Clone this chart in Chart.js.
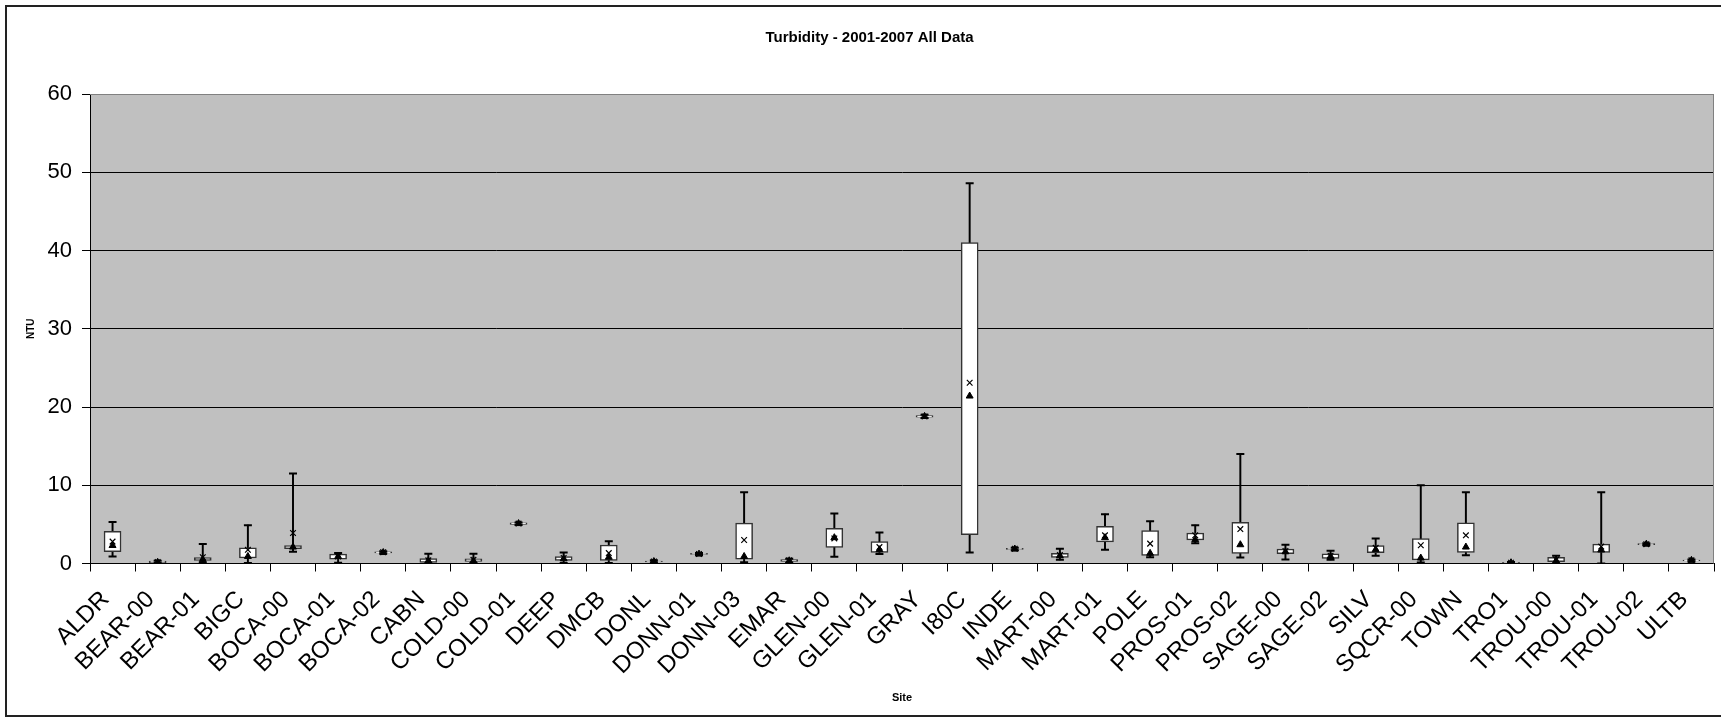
<!DOCTYPE html>
<html>
<head>
<meta charset="utf-8">
<title>Turbidity - 2001-2007 All Data</title>
<script src="https://cdn.jsdelivr.net/npm/chart.js@4.4.1/dist/chart.umd.min.js"></script>
<style>
    html, body { margin: 0; padding: 0; background: #fff; overflow: hidden; }
    #wrap { position: relative; width: 1721px; height: 720px; }
    #frame {
        position: absolute; left: 5px; top: 5px; width: 1720px; height: 712px;
        border: 2px solid #222; box-sizing: border-box; pointer-events: none;
    }
</style>
</head>
<body>
<div id="wrap">
    <canvas id="chart" width="1721" height="720"></canvas>
    <div id="frame"></div>
</div>
<script>
// ============================================
// DATA (NTU)
// ============================================
const sites = ['ALDR', 'BEAR-00', 'BEAR-01', 'BIGC', 'BOCA-00', 'BOCA-01', 'BOCA-02', 'CABN',
    'COLD-00', 'COLD-01', 'DEEP', 'DMCB', 'DONL', 'DONN-01', 'DONN-03', 'EMAR', 'GLEN-00',
    'GLEN-01', 'GRAY', 'I80C', 'INDE', 'MART-00', 'MART-01', 'POLE', 'PROS-01', 'PROS-02',
    'SAGE-00', 'SAGE-02', 'SILV', 'SQCR-00', 'TOWN', 'TRO1', 'TROU-00', 'TROU-01', 'TROU-02', 'ULTB'];

const whiskerLow  = [0.9, 0.05, 0.1, 0.05, 1.5, 0.1, 1.3, 0.0, 0.05, 4.95, 0.05, 0.05, 0.15, 1.1, 0.17, 0.1, 0.86, 1.2,
    18.6, 1.4, 1.7, 0.47, 1.77, 0.8, 2.6, 0.78, 0.52, 0.47, 1.0, 0.13, 1.04, 0.0, 0.0, 0.0, 2.35, 0.3];
const quart1      = [1.5, 0.1, 0.4, 0.7, 1.9, 0.55, 1.35, 0.13, 0.26, 5.0, 0.4, 0.4, 0.2, 1.15, 0.56, 0.26, 2.06, 1.42,
    18.7, 3.7, 1.8, 0.78, 2.76, 1.03, 3.0, 1.3, 1.25, 0.65, 1.38, 0.47, 1.43, 0.05, 0.22, 1.43, 2.4, 0.35];
const medians     = [2.3, 0.15, 0.5, 0.9, 2.1, 0.9, 1.4, 0.35, 0.35, 5.1, 0.6, 0.8, 0.25, 1.2, 0.9, 0.35, 3.3, 1.76,
    18.8, 21.4, 1.85, 1.0, 3.3, 1.3, 3.05, 2.4, 1.5, 0.9, 1.77, 0.7, 2.1, 0.1, 0.35, 1.73, 2.47, 0.4];
const means       = [2.8, 0.2, 0.8, 1.75, 3.9, 0.9, 1.45, 0.4, 0.47, 5.1, 0.7, 1.33, 0.26, 1.22, 3.0, 0.4, 3.2, 2.1,
    18.8, 23.1, 1.9, 1.08, 3.6, 2.54, 3.6, 4.4, 1.6, 1.0, 2.0, 2.33, 3.6, 0.1, 0.5, 2.16, 2.47, 0.4];
const quart3      = [4.1, 0.3, 0.75, 2.0, 2.3, 1.2, 1.5, 0.64, 0.6, 5.2, 0.9, 2.36, 0.3, 1.3, 5.15, 0.5, 4.5, 2.8,
    18.9, 41.0, 1.95, 1.3, 4.74, 4.2, 3.9, 5.26, 1.85, 1.25, 2.3, 3.2, 5.2, 0.15, 0.78, 2.47, 2.55, 0.45];
const whiskerHigh = [5.3, 0.35, 2.5, 4.9, 11.5, 1.35, 1.55, 1.25, 1.25, 5.25, 1.4, 2.83, 0.4, 1.35, 9.1, 0.6, 6.4, 3.95,
    19.0, 48.6, 2.0, 1.9, 6.3, 5.4, 4.9, 14.0, 2.4, 1.64, 3.2, 10.0, 9.1, 0.2, 1.0, 9.1, 2.6, 0.5];

const yTicks = [0, 10, 20, 30, 40, 50, 60];

const FONT = "'Liberation Sans', Arial, sans-serif";

// ============================================
// PLOT AREA BACKGROUND + BORDER
// ============================================
const plotArea = {
    id: 'plotArea',
    beforeDraw(chart) {
        const { ctx, chartArea: a } = chart;
        ctx.save();
        ctx.fillStyle = '#C0C0C0';
        ctx.fillRect(a.left, a.top, a.right - a.left, a.bottom - a.top);
        ctx.restore();
    },
    beforeDatasetsDraw(chart) {
        const { ctx, chartArea: a } = chart;
        ctx.save();
        ctx.strokeStyle = '#808080';
        ctx.lineWidth = 1;
        ctx.beginPath();
        ctx.moveTo(a.left, a.top + 0.5);
        ctx.lineTo(a.right - 0.5, a.top + 0.5);
        ctx.lineTo(a.right - 0.5, a.bottom);
        ctx.stroke();
        ctx.restore();
    }
};

function pairs(lo, hi) {
    return lo.map((v, i) => [v, hi[i]]);
}

const pointSet = (label, data, style, radius, extra) => Object.assign({
    type: 'line',
    label: label,
    data: data,
    showLine: false,
    pointStyle: style,
    pointRadius: radius,
    pointHoverRadius: radius,
    borderColor: '#000',
    backgroundColor: '#000'
}, extra);

new Chart(document.getElementById('chart'), {
    type: 'bar',
    data: {
        labels: sites,
        datasets: [
            pointSet('Median', medians, 'triangle', 4, { order: 1, pointBorderWidth: 1 }),
            pointSet('Mean', means, 'crossRot', 4, { order: 2, pointBorderWidth: 1.2 }),
            pointSet('Max', whiskerHigh, 'line', 4, { order: 3, pointBorderWidth: 2 }),
            pointSet('Min', whiskerLow, 'line', 4, { order: 3, pointBorderWidth: 2 }),
            {
                label: 'Box',
                data: pairs(quart1, quart3),
                order: 4,
                grouped: false,
                barThickness: 17,
                backgroundColor: '#ffffff',
                borderColor: '#333333',
                borderWidth: 1.5,
                borderSkipped: false
            },
            {
                label: 'Whisker',
                data: pairs(whiskerLow, whiskerHigh),
                order: 5,
                grouped: false,
                barThickness: 1.3,
                backgroundColor: '#000000',
                borderWidth: 0
            }
        ]
    },
    options: {
        responsive: false,
        animation: false,
        layout: { padding: { left: 25, right: 7, top: 0, bottom: 15 } },
        plugins: {
            legend: { display: false },
            tooltip: { enabled: false },
            title: {
                display: true,
                text: 'Turbidity - 2001-2007 All Data',
                color: '#000',
                font: { family: FONT, size: 15, weight: 'bold' },
                padding: { top: 29, bottom: 47 }
            }
        },
        scales: {
            x: {
                offset: true,
                grid: {
                    offset: true,
                    drawOnChartArea: false,
                    drawTicks: true,
                    tickLength: 8,
                    color: '#000'
                },
                border: { color: '#000', width: 1 },
                ticks: {
                    autoSkip: false,
                    maxRotation: 45,
                    minRotation: 45,
                    color: '#000',
                    padding: 14,
                    labelOffset: -7,
                    font: { family: FONT, size: 24 }
                },
                title: {
                    display: true,
                    text: 'Site',
                    color: '#000',
                    font: { family: FONT, size: 11, weight: 'bold' },
                    padding: 0
                },
                afterFit(scale) {
                    scale.height = 141.5;
                    scale.paddingLeft = 0;
                    scale.paddingRight = 0;
                }
            },
            y: {
                min: yTicks[0],
                max: yTicks[yTicks.length - 1],
                afterBuildTicks(scale) { scale.ticks = yTicks.map(v => ({ value: v })); },
                grid: {
                    color: ctx => (ctx.tick && ctx.tick.value === 60) ? '#808080' : '#000',
                    lineWidth: 1,
                    tickLength: 8,
                    tickColor: '#000'
                },
                border: { color: '#000', width: 1 },
                ticks: {
                    color: '#000',
                    padding: 10,
                    font: { family: FONT, size: 22 }
                },
                title: {
                    display: true,
                    text: 'NTU',
                    color: '#000',
                    font: { family: FONT, size: 10, weight: 'bold' },
                    padding: 0
                },
                afterFit(scale) { scale.width = 65; }
            }
        }
    },
    plugins: [plotArea]
});
</script>
</body>
</html>
